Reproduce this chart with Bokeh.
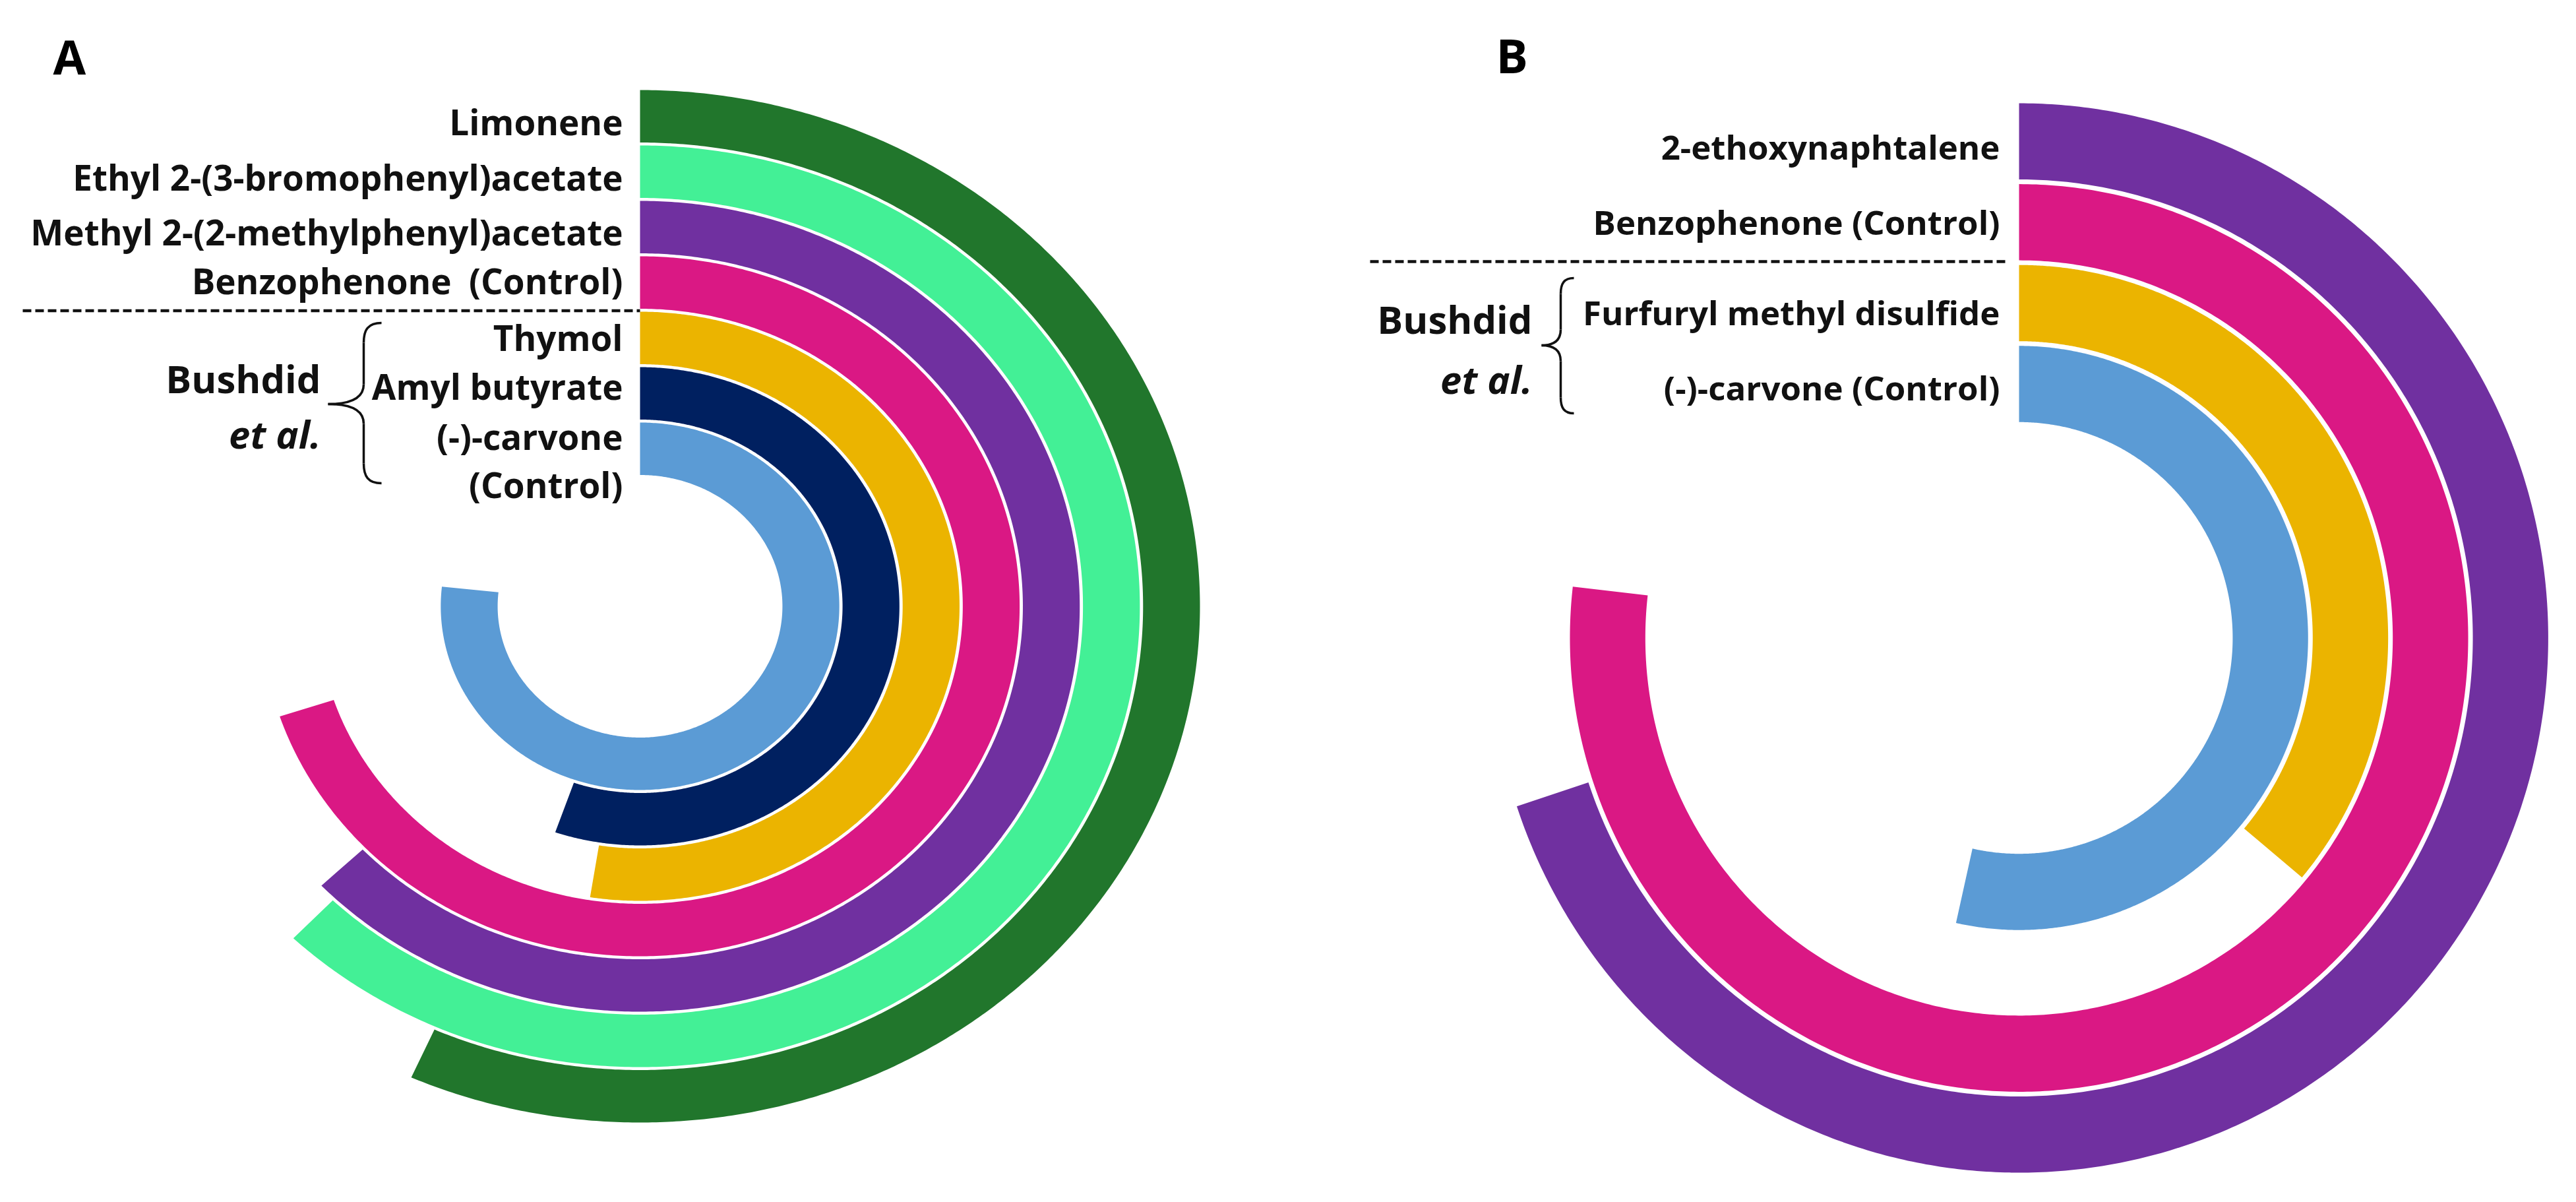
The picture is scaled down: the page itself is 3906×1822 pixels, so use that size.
import numpy as np
from bokeh.plotting import figure
from bokeh.models import Range1d
from bokeh.embed import file_html
from bokeh.resources import INLINE
from bokeh.core.properties import value

# ---------------- data (share of a full turn, in %) ----------------
a_labels = ["Limonene", "Ethyl 2-(3-bromophenyl)acetate", "Methyl 2-(2-methylphenyl)acetate",
            "Benzophenone\u2002(Control)", "Thymol", "Amyl butyrate", "(-)-carvone\n(Control)"]
a_values = [56.7, 62.2, 62.9, 69.9, 52.5, 55.3, 76.7]
a_colors = ["#21762C", "#43F096", "#7030A0", "#DA1884", "#EBB400", "#002060", "#5B9BD5"]

b_labels = ["2-ethoxynaphtalene", "Benzophenone (Control)", "Furfuryl methyl disulfide", "(-)-carvone (Control)"]
b_values = [69.9, 76.8, 36.1, 53.5]
b_colors = ["#7030A0", "#DA1884", "#EBB400", "#5B9BD5"]

group_note = ["Bushdid", "et al."]
panel_tags = ["A", "B"]

# ---------------- layout ----------------
W, H = 3890, 1806
p = figure(width=W, height=H, x_range=Range1d(8, 8 + W), y_range=Range1d(8 + H, 8),
           output_backend="svg", toolbar_location=None, min_border=0,
           x_axis_location=None, y_axis_location=None, outline_line_color=None,
           background_fill_color="white", border_fill_color="white")
p.grid.visible = False

FONT = value("Open Sans")
INK = "#111111"


def ring(cx, cy, r_out, r_in, sx, pct, n=500):
    th = np.linspace(0.0, pct / 100.0 * 2 * np.pi, n)
    xo = cx + r_out * sx * np.sin(th)
    yo = cy - r_out * np.cos(th)
    xi = cx + r_in * sx * np.sin(th[::-1])
    yi = cy - r_in * np.cos(th[::-1])
    return list(np.concatenate([xo, xi])), list(np.concatenate([yo, yi]))


def panel(labels, vals, colors, cx, cy, r0, pitch, thick, sx, label_x, font_px, label_dy):
    xs, ys, ly = [], [], []
    for k, v in enumerate(vals):
        ro = r0 - k * pitch
        ri = ro - thick
        x, y = ring(cx, cy, ro, ri, sx, v)
        xs.append(x)
        ys.append(y)
        ly.append(cy - (ro + ri) / 2 + label_dy[k])
    p.patches(xs=xs, ys=ys, fill_color=colors, line_color=None)
    p.text(x=[label_x] * len(labels), y=ly, text=labels, text_align="right",
           text_baseline="middle", text_font=FONT, text_font_style="bold",
           text_font_size=f"{font_px}px", text_color=INK, text_line_height=1.0)


def brace(x_end, x_spine, x_tip, y_top, y_mid, y_bot, d):
    lw = 3.5
    p.bezier(x0=[x_end], y0=[y_top], x1=[x_spine], y1=[y_top + d],
             cx0=[x_spine + (x_end - x_spine) * 0.25], cy0=[y_top],
             cx1=[x_spine], cy1=[y_top + d * 0.35], line_color=INK, line_width=lw)
    p.segment(x0=[x_spine], y0=[y_top + d], x1=[x_spine], y1=[y_mid - d], line_color=INK, line_width=lw)
    p.bezier(x0=[x_spine], y0=[y_mid - d], x1=[x_tip], y1=[y_mid],
             cx0=[x_spine], cy0=[y_mid - d * 0.3],
             cx1=[x_spine - (x_spine - x_tip) * 0.35], cy1=[y_mid], line_color=INK, line_width=lw)
    p.bezier(x0=[x_tip], y0=[y_mid], x1=[x_spine], y1=[y_mid + d],
             cx0=[x_spine - (x_spine - x_tip) * 0.35], cy0=[y_mid],
             cx1=[x_spine], cy1=[y_mid + d * 0.3], line_color=INK, line_width=lw)
    p.segment(x0=[x_spine], y0=[y_mid + d], x1=[x_spine], y1=[y_bot - d], line_color=INK, line_width=lw)
    p.bezier(x0=[x_spine], y0=[y_bot - d], x1=[x_end], y1=[y_bot],
             cx0=[x_spine], cy0=[y_bot - d * 0.35],
             cx1=[x_spine + (x_end - x_spine) * 0.25], cy1=[y_bot], line_color=INK, line_width=lw)


# Panel A
panel(a_labels, a_values, a_colors, cx=978, cy=926.5, r0=782.5, pitch=84, thick=79.5, sx=1.085,
      label_x=952, font_px=53, label_dy=[8, 8, 7, -3, -1, -11, 18])
p.segment(x0=[42], y0=[478.6], x1=[978], y1=[478.6], line_color=INK, line_width=4.5, line_dash="13 6")
brace(586, 559, 505, 497, 620, 740, 30)
p.text(x=[494, 494], y=[581, 665], text=group_note, text_align="right", text_baseline="middle",
       text_font=FONT, text_font_style=["bold", "bold italic"], text_font_size="58px", text_color=INK)

# Panel B
panel(b_labels, b_values, b_colors, cx=3069, cy=974.5, r0=810.5, pitch=122.6, thick=115.5, sx=0.99,
      label_x=3040, font_px=51, label_dy=[8, -1, 14, 5])
p.segment(x0=[2085], y0=[404], x1=[3052], y1=[404], line_color=INK, line_width=4.5, line_dash="13 6")
brace(2394, 2374, 2345, 429, 531, 634, 24)
p.text(x=[2331, 2331], y=[491, 582], text=group_note, text_align="right", text_baseline="middle",
       text_font=FONT, text_font_style=["bold", "bold italic"], text_font_size="58px", text_color=INK)

# Panel tags
p.text(x=[88, 2276], y=[92, 90], text=panel_tags, text_align="left", text_baseline="middle",
       text_font=FONT, text_font_style="bold", text_font_size="72px", text_color="#000000")

open("out.html", "w").write(file_html(p, INLINE))
